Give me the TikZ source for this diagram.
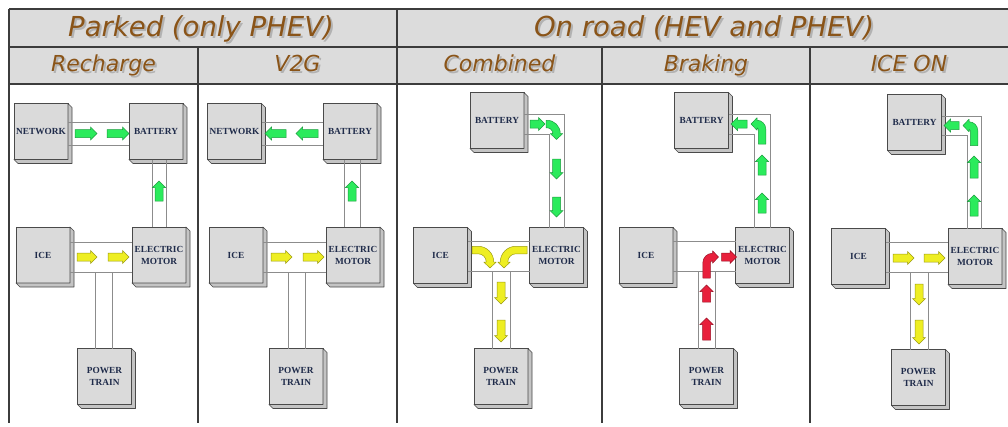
\documentclass[tikz,border=0pt]{standalone}
\usepackage{fontspec}
\setmainfont{Liberation Serif}
\newfontfamily\hdfont{DejaVu Sans}
\usetikzlibrary{shapes.arrows,calc}
\definecolor{hdfill}{HTML}{DCDCDC}
\definecolor{gridc}{HTML}{3C3C3C}
\definecolor{hdtext}{HTML}{8A5418}
\definecolor{boxfront}{HTML}{DADADA}
\definecolor{boxside}{HTML}{C4C4C4}
\definecolor{boxline}{HTML}{4A4A4A}
\definecolor{boxtext}{HTML}{1F2B4A}
\definecolor{chanc}{HTML}{8C8C8C}
\definecolor{gfill}{HTML}{2BEB5C}\definecolor{gline}{HTML}{1C9E3E}
\definecolor{yfill}{HTML}{EEEE22}\definecolor{yline}{HTML}{9C9C14}
\definecolor{rfill}{HTML}{E8203C}\definecolor{rline}{HTML}{9C1226}
\tikzset{
 mygrid/.style={draw=gridc, line width=1.2pt},
 hdA/.style={font=\hdfont\itshape\fontsize{27.5}{30}\selectfont, anchor=base, inner sep=0pt},
 hdB/.style={font=\hdfont\itshape\fontsize{22}{24}\selectfont, anchor=base, inner sep=0pt},
 ubox/.style={draw=boxline, fill=boxfront, line width=0.6pt, minimum width=54pt, minimum height=56pt, inner sep=0pt, outer sep=0pt, align=center, text=boxtext, font=\bfseries\fontsize{9.3}{12}\selectfont},
 sidepart/.style={draw=boxline, fill=boxside, line width=0.6pt, line join=round},
 chan/.style={draw=chanc, line width=0.8pt},
 blk/.style={single arrow, single arrow head extend=2.5pt, inner xsep=0pt, inner ysep=3.75pt, outer sep=0pt, line width=0.5pt},
 ga/.style={blk, fill=gfill, draw=gline},
 ya/.style={blk, fill=yfill, draw=yline},
 ra/.style={blk, fill=rfill, draw=rline},
 gc/.style={fill=gfill, draw=gline, line width=0.5pt, line join=round},
 yc/.style={fill=yfill, draw=yline, line width=0.5pt, line join=round},
 rc/.style={fill=rfill, draw=rline, line width=0.5pt, line join=round},
}
\newcommand\mkbox[4]{%
 \node[ubox] (#1) at (#2,#3) {#4};
 \path[sidepart] (#1.north east) -- ++(4,4) -- ($(#1.south east)+(4,4)$) -- ($(#1.south west)+(4,4)$) -- (#1.south west) -- (#1.south east) -- cycle;}
\newcommand\hdtext[5]{%
 \node[#4, text=black!30] (#1s) at (#2+2,#3+2) {#5};
 \node[#4, text=hdtext] (#1) at (#2,#3) {#5};}
\newcommand\bend[9]{%
 \pgfmathsetmacro\bRo{#7+3.75}%
 \pgfmathsetmacro\bRi{#7-3.75}%
 \pgfmathsetmacro\bEx{#1+#7*(#5)+#7*(#3)}%
 \pgfmathsetmacro\bEy{#2+#7*(#6)+#7*(#4)}%
 \path[#9] ({#1-3.75*(#5)-#8*(#3)},{#2-3.75*(#6)-#8*(#4)}) -- ({#1-3.75*(#5)},{#2-3.75*(#6)})
  .. controls ({#1-3.75*(#5)+0.5523*\bRo*(#3)},{#2-3.75*(#6)+0.5523*\bRo*(#4)}) and ({\bEx+3.75*(#3)-0.5523*\bRo*(#5)},{\bEy+3.75*(#4)-0.5523*\bRo*(#6)}) .. ({\bEx+3.75*(#3)},{\bEy+3.75*(#4)})
  -- ({\bEx+6.25*(#3)},{\bEy+6.25*(#4)}) -- ({\bEx+6*(#5)},{\bEy+6*(#6)}) -- ({\bEx-6.25*(#3)},{\bEy-6.25*(#4)}) -- ({\bEx-3.75*(#3)},{\bEy-3.75*(#4)})
  .. controls ({\bEx-3.75*(#3)-0.5523*\bRi*(#5)},{\bEy-3.75*(#4)-0.5523*\bRi*(#6)}) and ({#1+3.75*(#5)+0.5523*\bRi*(#3)},{#2+3.75*(#6)+0.5523*\bRi*(#4)}) .. ({#1+3.75*(#5)},{#2+3.75*(#6)})
  -- ({#1+3.75*(#5)-#8*(#3)},{#2+3.75*(#6)-#8*(#4)}) -- cycle;}
\begin{document}
\begin{tikzpicture}[x=1pt,y=-1pt]
\useasboundingbox (0,0) rectangle (1008,426);
\fill[white] (0,0) rectangle (1008,426);
% ---------- table ----------
\fill[hdfill] (9,9) rectangle (1008,84);
\draw[mygrid] (9,9) -- (1008,9) (9,47) -- (1008,47) (9,84) -- (1008,84);
\draw[mygrid] (9,9) -- (9,423) (397,9) -- (397,423) (198,47) -- (198,423) (602,47) -- (602,423) (810,47) -- (810,423);
\hdtext{hparked}{201}{36.5}{hdA}{Parked (only PHEV)}
\hdtext{hroad}{704}{36.5}{hdA}{On road (HEV and PHEV)}
\hdtext{hrech}{103.5}{71}{hdB}{Recharge}
\hdtext{hv2g}{297.5}{71}{hdB}{V2G}
\hdtext{hcomb}{499.5}{71}{hdB}{Combined}
\hdtext{hbrak}{706}{71}{hdB}{Braking}
\hdtext{hiceon}{909}{71}{hdB}{ICE ON}
% ---------- panel 1: Recharge ----------
\mkbox{p1net}{41}{131.5}{NETWORK}
\mkbox{p1bat}{156}{131.5}{BATTERY}
\mkbox{p1ice}{43}{255}{ICE}
\mkbox{p1em}{159}{255}{ELECTRIC\\MOTOR}
\mkbox{p1pt}{104.5}{376.5}{POWER\\TRAIN}
\draw[chan] (p1net.east |- 0,122) -- (p1bat.west |- 0,122) (p1net.east |- 0,145) -- (p1bat.west |- 0,145);
\draw[chan] (p1bat.south -| 152,0) -- (p1em.north -| 152,0) (p1bat.south -| 166,0) -- (p1em.north -| 166,0);
\draw[chan] (p1ice.east |- 0,242) -- (p1em.west |- 0,242) (p1ice.east |- 0,272) -- (p1em.west |- 0,272);
\draw[chan] (95,272) -- (p1pt.north -| 95,0) (112,272) -- (p1pt.north -| 112,0);
\node[ga, minimum height=22pt] (p1g1) at (84,133.5) {};
\node[ga, minimum height=22pt] (p1g2) at (116,133.5) {};
\node[ga, minimum height=20pt, rotate=90] (p1g3) at (159,193) {};
\node[ya, minimum height=20pt] (p1y1) at (85,257) {};
\node[ya, minimum height=21pt] (p1y2) at (116.5,257) {};
% ---------- panel 2: V2G ----------
\mkbox{p2net}{234.5}{131.5}{NETWORK}
\mkbox{p2bat}{350}{131.5}{BATTERY}
\mkbox{p2ice}{236}{255}{ICE}
\mkbox{p2em}{353}{255}{ELECTRIC\\MOTOR}
\mkbox{p2pt}{296}{376.5}{POWER\\TRAIN}
\draw[chan] (p2net.east |- 0,122) -- (p2bat.west |- 0,122) (p2net.east |- 0,145) -- (p2bat.west |- 0,145);
\draw[chan] (p2bat.south -| 344,0) -- (p2em.north -| 344,0) (p2bat.south -| 360,0) -- (p2em.north -| 360,0);
\draw[chan] (p2ice.east |- 0,242) -- (p2em.west |- 0,242) (p2ice.east |- 0,272) -- (p2em.west |- 0,272);
\draw[chan] (288,272) -- (p2pt.north -| 288,0) (305,272) -- (p2pt.north -| 305,0);
\node[ga, minimum height=21pt, rotate=180] (p2g1) at (277.5,133.5) {};
\node[ga, minimum height=22pt, rotate=180] (p2g2) at (309,133.5) {};
\node[ga, minimum height=20pt, rotate=90] (p2g3) at (352,193) {};
\node[ya, minimum height=21pt] (p2y1) at (279.5,257) {};
\node[ya, minimum height=21pt] (p2y2) at (311.5,257) {};
% ---------- panel 3: Combined ----------
\mkbox{p3bat}{497}{120.5}{BATTERY}
\mkbox{p3ice}{440.5}{255.5}{ICE}
\mkbox{p3em}{556.5}{255.5}{ELECTRIC\\MOTOR}
\mkbox{p3pt}{501}{376.5}{POWER\\TRAIN}
\draw[chan] (p3bat.east |- 0,114) -- (564,114) -- (p3em.north -| 564,0) (p3bat.east |- 0,134) -- (549,134) -- (p3em.north -| 549,0);
\draw[chan] (p3ice.east |- 0,241) -- (p3em.west |- 0,241) (p3ice.east |- 0,271) -- (p3em.west |- 0,271);
\draw[chan] (492,271) -- (p3pt.north -| 492,0) (510,271) -- (p3pt.north -| 510,0);
\node[ga, minimum height=15pt] (p3g1) at (535.5,124) {};
\bend{547}{124}{1}{0}{0}{1}{9.5}{1}{gc}
\node[ga, minimum height=20pt, rotate=-90] (p3g2) at (556.5,167) {};
\node[ga, minimum height=20pt, rotate=-90] (p3g3) at (556.5,205) {};
\bend{478}{250}{1}{0}{0}{1}{12}{6}{yc}
\bend{516}{250}{-1}{0}{0}{1}{12}{11}{yc}
\node[ya, minimum height=22pt, rotate=-90] (p3y1) at (501,291) {};
\node[ya, minimum height=22pt, rotate=-90] (p3y2) at (501,329) {};
% ---------- panel 4: Braking ----------
\mkbox{p4bat}{701.5}{120.5}{BATTERY}
\mkbox{p4ice}{646}{255.5}{ICE}
\mkbox{p4em}{762.5}{255.5}{ELECTRIC\\MOTOR}
\mkbox{p4pt}{706.5}{376.5}{POWER\\TRAIN}
\draw[chan] (p4bat.east |- 0,114) -- (770,114) -- (p4em.north -| 770,0) (p4bat.east |- 0,134) -- (754,134) -- (p4em.north -| 754,0);
\draw[chan] (p4ice.east |- 0,241) -- (p4em.west |- 0,241) (p4ice.east |- 0,271) -- (p4em.west |- 0,271);
\draw[chan] (698,271) -- (p4pt.north -| 698,0) (715,271) -- (p4pt.north -| 715,0);
\node[ga, minimum height=16pt, rotate=180] (p4g1) at (741,124) {};
\bend{762}{129}{0}{-1}{-1}{0}{5}{15}{gc}
\node[ga, minimum height=20pt, rotate=90] (p4g2) at (762,167) {};
\node[ga, minimum height=20pt, rotate=90] (p4g3) at (762,205) {};
\bend{706.5}{263}{0}{-1}{1}{0}{6}{15}{rc}
\node[ra, minimum height=15pt] (p4r1) at (727,257) {};
\node[ra, minimum height=17pt, rotate=90] (p4r2) at (706.5,295.5) {};
\node[ra, minimum height=22pt, rotate=90] (p4r3) at (706.5,331) {};
% ---------- panel 5: ICE ON ----------
\mkbox{p5bat}{914.5}{122.5}{BATTERY}
\mkbox{p5ice}{858.5}{256.5}{ICE}
\mkbox{p5em}{975}{256.5}{ELECTRIC\\MOTOR}
\mkbox{p5pt}{918.5}{377.5}{POWER\\TRAIN}
\draw[chan] (p5bat.east |- 0,116) -- (981,116) -- (p5em.north -| 981,0) (p5bat.east |- 0,135) -- (967,135) -- (p5em.north -| 967,0);
\draw[chan] (p5ice.east |- 0,242) -- (p5em.west |- 0,242) (p5ice.east |- 0,272) -- (p5em.west |- 0,272);
\draw[chan] (910,272) -- (p5pt.north -| 910,0) (928,272) -- (p5pt.north -| 928,0);
\node[ga, minimum height=15pt, rotate=180] (p5g1) at (953.5,125.5) {};
\bend{974}{130.5}{0}{-1}{-1}{0}{5}{15}{gc}
\node[ga, minimum height=22pt, rotate=90] (p5g2) at (974,169) {};
\node[ga, minimum height=21pt, rotate=90] (p5g3) at (974,207.5) {};
\node[ya, minimum height=21pt] (p5y1) at (901.5,258) {};
\node[ya, minimum height=21pt] (p5y2) at (932.5,258) {};
\node[ya, minimum height=21pt, rotate=-90] (p5y3) at (919,292.5) {};
\node[ya, minimum height=24pt, rotate=-90] (p5y4) at (919,330) {};
\end{tikzpicture}
\end{document}
